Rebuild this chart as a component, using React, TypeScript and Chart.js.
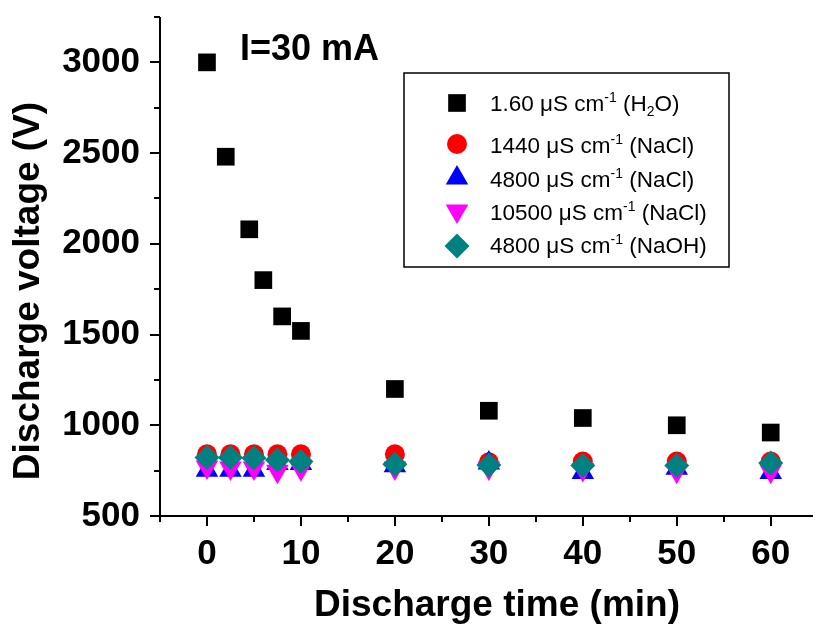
import React, { useEffect, useRef } from 'react';
import { Chart, registerables } from 'chart.js';

Chart.register(...registerables);

const FONT = '"Liberation Sans", Arial, Helvetica, sans-serif';

// ---- data ----
const h2oTime = [0, 2, 4.5, 6, 8, 10, 20, 30, 40, 50, 60];
const h2oVoltage = [3000, 2480, 2080, 1800, 1600, 1520, 1200, 1080, 1040, 1000, 960];

const saltTime = [0, 2.5, 5, 7.5, 10, 20, 30, 40, 50, 60];
const nacl1440Voltage = [840, 840, 840, 840, 840, 840, 796, 800, 800, 800];
const nacl4800Voltage = [752, 752, 752, 790, 790, 777, 792, 740, 763, 740];
const nacl10500Voltage = [770, 765, 765, 746, 761, 765, 765, 756, 746, 746];
const naoh4800Voltage = [823, 823, 820, 809, 800, 785, 781, 778, 778, 792];

const xTickValues = [0, 10, 20, 30, 40, 50, 60];
const yTickValues = [500, 1000, 1500, 2000, 2500, 3000];

const xTitle = 'Discharge time (min)';
const yTitle = 'Discharge voltage (V)';
const annotationText = 'I=30 mA';

type Seg = { t: string; s?: 'sup' | 'sub' };
const legendLabels: Seg[][] = [
  [{ t: '1.60 μS cm' }, { t: '-1', s: 'sup' }, { t: ' (H' }, { t: '2', s: 'sub' }, { t: 'O)' }],
  [{ t: '1440 μS cm' }, { t: '-1', s: 'sup' }, { t: ' (NaCl)' }],
  [{ t: '4800 μS cm' }, { t: '-1', s: 'sup' }, { t: ' (NaCl)' }],
  [{ t: '10500 μS cm' }, { t: '-1', s: 'sup' }, { t: ' (NaCl)' }],
  [{ t: '4800 μS cm' }, { t: '-1', s: 'sup' }, { t: ' (NaOH)' }],
];

const seriesColors = ['#000000', '#FF0000', '#0000FF', '#FF00FF', '#008080'];
const seriesShapes = ['rect', 'circle', 'triangle', 'triangleDown', 'rectRot'];

function toPoints(xs: number[], ys: number[]) {
  return xs.map((x, i) => ({ x, y: ys[i] }));
}

function drawShape(ctx: CanvasRenderingContext2D, shape: string, x: number, y: number, color: string) {
  ctx.fillStyle = color;
  ctx.beginPath();
  if (shape === 'rect') {
    const h = 12.5 * Math.SQRT1_2;
    ctx.rect(x - h, y - h, 2 * h, 2 * h);
  } else if (shape === 'circle') {
    ctx.arc(x, y, 10, 0, Math.PI * 2);
  } else if (shape === 'triangle' || shape === 'triangleDown') {
    const r = 13;
    const d = shape === 'triangle' ? 1 : -1;
    ctx.moveTo(x, y - d * r);
    ctx.lineTo(x + r * Math.sin(Math.PI / 3), y + d * r / 2);
    ctx.lineTo(x - r * Math.sin(Math.PI / 3), y + d * r / 2);
    ctx.closePath();
  } else {
    const r = 12.5;
    ctx.moveTo(x - r, y);
    ctx.lineTo(x, y - r);
    ctx.lineTo(x + r, y);
    ctx.lineTo(x, y + r);
    ctx.closePath();
  }
  ctx.fill();
}

const overlayPlugin = {
  id: 'overlay',
  afterDraw(chart: any) {
    const ctx: CanvasRenderingContext2D = chart.ctx;
    const xs = chart.scales.x;
    const ys = chart.scales.y;
    const left = chart.chartArea.left;
    const bottom = chart.chartArea.bottom;
    const top = chart.chartArea.top;
    const right = chart.chartArea.right;
    ctx.save();
    ctx.strokeStyle = '#000';
    ctx.lineWidth = 2;
    // axis lines
    ctx.beginPath();
    ctx.moveTo(left, top);
    ctx.lineTo(left, bottom);
    ctx.moveTo(left, bottom);
    ctx.lineTo(right, bottom);
    ctx.stroke();
    // x ticks (major every 10, minor every 5)
    for (let v = xs.min; v <= xs.max + 1e-6; v += 5) {
      const px = Math.round(xs.getPixelForValue(v));
      const major = Math.abs(v % 10) < 1e-6;
      ctx.beginPath();
      ctx.moveTo(px, bottom);
      ctx.lineTo(px, bottom + (major ? 10 : 6));
      ctx.stroke();
    }
    // y ticks (major every 500, minor every 250)
    for (let v = ys.min; v <= ys.max + 1e-6; v += 250) {
      const py = Math.round(ys.getPixelForValue(v));
      const major = Math.abs(v % 500) < 1e-6;
      ctx.beginPath();
      ctx.moveTo(left, py);
      ctx.lineTo(left - (major ? 10 : 6), py);
      ctx.stroke();
    }

    // axis titles
    ctx.fillStyle = '#000';
    ctx.font = `bold 37px ${FONT}`;
    ctx.textAlign = 'center';
    ctx.textBaseline = 'middle';
    ctx.fillText(xTitle, 497, 606);
    ctx.save();
    ctx.translate(29, 291);
    ctx.rotate(-Math.PI / 2);
    ctx.fillText(yTitle, 0, 0);
    ctx.restore();

    // annotation
    ctx.textAlign = 'left';
    ctx.textBaseline = 'alphabetic';
    ctx.font = `bold 36px ${FONT}`;
    ctx.fillText(annotationText, 240, 60);

    // legend
    const bx = 404, by = 73, bw = 325, bh = 194;
    ctx.fillStyle = '#fff';
    ctx.fillRect(bx, by, bw, bh);
    ctx.lineWidth = 1.5;
    ctx.strokeStyle = '#000';
    ctx.strokeRect(bx, by, bw, bh);
    const baselines = [111, 153, 187, 220, 253];
    const markerY = [103, 144, 178, 211, 246];
    legendLabels.forEach((segs, i) => {
      drawShape(ctx, seriesShapes[i], 457, markerY[i], seriesColors[i]);
      let x = 490;
      const base = baselines[i];
      ctx.fillStyle = '#000';
      segs.forEach((sg) => {
        if (sg.s) {
          ctx.font = `14px ${FONT}`;
          const dy = sg.s === 'sup' ? -9 : 5;
          ctx.fillText(sg.t, x, base + dy);
        } else {
          ctx.font = `22.5px ${FONT}`;
          ctx.fillText(sg.t, x, base);
        }
        x += ctx.measureText(sg.t).width;
      });
    });
    ctx.restore();
  },
};

export default function App() {
  const ref = useRef<HTMLCanvasElement>(null);
  useEffect(() => {
    const names = legendLabels.map((segs) => segs.map((s) => s.t).join(''));
    const seriesData = [
      toPoints(h2oTime, h2oVoltage),
      toPoints(saltTime, nacl1440Voltage),
      toPoints(saltTime, nacl4800Voltage),
      toPoints(saltTime, nacl10500Voltage),
      toPoints(saltTime, naoh4800Voltage),
    ];
    const styles: any[] = [
      { pointStyle: 'rect', pointRadius: 12.5, rotation: 0 },
      { pointStyle: 'circle', pointRadius: 10, rotation: 0 },
      { pointStyle: 'triangle', pointRadius: 13, rotation: 0 },
      { pointStyle: 'triangle', pointRadius: 13, rotation: 180 },
      { pointStyle: 'rectRot', pointRadius: 12.5, rotation: 0 },
    ];
    const chart = new Chart(ref.current!, {
      type: 'scatter',
      data: {
        datasets: seriesData.map((d, i) => ({
          label: names[i],
          data: d,
          showLine: false,
          backgroundColor: seriesColors[i],
          borderColor: seriesColors[i],
          borderWidth: 0,
          pointBorderWidth: 0,
          pointStyle: styles[i].pointStyle,
          pointRadius: styles[i].pointRadius,
          pointHoverRadius: styles[i].pointRadius,
          pointRotation: styles[i].rotation,
          order: 5 - i,
        })),
      },
      options: {
        animation: false,
        responsive: false,
        devicePixelRatio: 1,
        layout: { padding: { top: 17, right: 0, left: 0, bottom: 0 } },
        plugins: { legend: { display: false }, tooltip: { enabled: false } },
        scales: {
          x: {
            type: 'linear',
            min: -5,
            max: 64.5,
            grid: { display: false },
            border: { display: false },
            afterBuildTicks: (s: any) => {
              s.ticks = xTickValues.map((v) => ({ value: v }));
            },
            afterFit: (s: any) => {
              s.height = 114;
              s.paddingLeft = 0;
              s.paddingRight = 0;
            },
            ticks: {
              color: '#000',
              padding: 9,
              maxRotation: 0,
              autoSkip: false,
              callback: (v: any) => String(v),
              font: { family: FONT, size: 35, weight: 'bold' },
            },
          },
          y: {
            type: 'linear',
            min: 500,
            max: 3250,
            grid: { display: false },
            border: { display: false },
            afterBuildTicks: (s: any) => {
              s.ticks = yTickValues.map((v) => ({ value: v }));
            },
            afterFit: (s: any) => {
              s.width = 160;
              s.paddingTop = 0;
              s.paddingBottom = 0;
            },
            ticks: {
              color: '#000',
              padding: 12,
              autoSkip: false,
              callback: (v: any) => String(v),
              font: { family: FONT, size: 35, weight: 'bold' },
            },
          },
        },
      } as any,
      plugins: [overlayPlugin],
    });
    return () => chart.destroy();
  }, []);
  return (
    <div style={{ position: 'absolute', left: 0, top: 0, width: 826, height: 630, background: '#fff' }}>
      <canvas ref={ref} width={826} height={630} style={{ width: 826, height: 630, display: 'block' }} />
    </div>
  );
}
